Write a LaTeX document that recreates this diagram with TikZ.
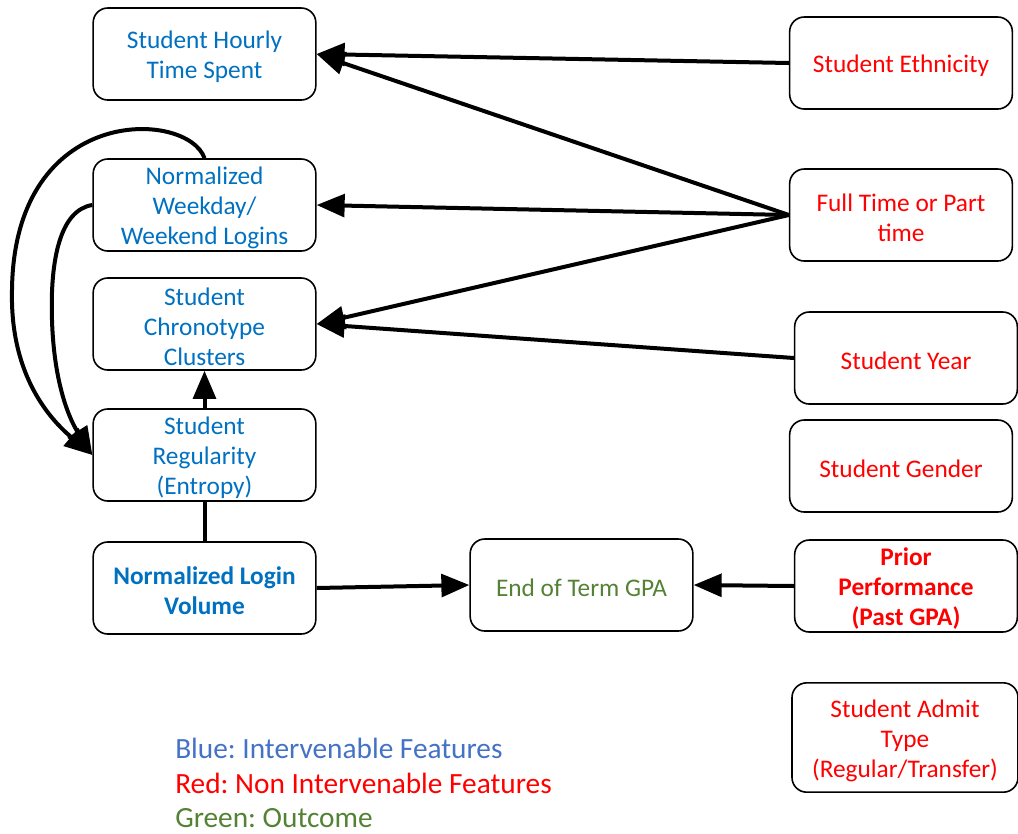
\documentclass[tikz,border=0pt]{standalone}
\usepackage{fontspec}
\setmainfont{Carlito}
\frenchspacing
\usetikzlibrary{arrows.meta}
\definecolor{fblue}{HTML}{0070C0}
\definecolor{lblue}{HTML}{4472C4}
\definecolor{fred}{HTML}{FF0000}
\definecolor{fgreen}{HTML}{548235}
\newcommand{\tallstrut}{\rule{0pt}{17.5pt}}
\tikzset{
  box/.style={draw, rounded corners=11pt, line width=1.2pt, minimum width=167pt,
    minimum height=69pt, align=center, inner sep=0pt, font=\fontsize{19}{22.5}\selectfont},
  bluebox/.style={box, text=fblue},
  redbox/.style={box, text=fred},
  arr/.style={line width=3pt, -{Triangle[length=21pt,width=17pt]}},
  plain/.style={line width=3pt},
  legend/.style={anchor=base west, inner sep=0pt, font=\fontsize{22}{26}\selectfont}
}
\begin{document}
\begin{tikzpicture}[x=0.75pt,y=-0.75pt]
\useasboundingbox (0,0) rectangle (1018,833);
% left column
\node[bluebox] (hourly) at (204.5,54) {\tallstrut Student Hourly\\Time Spent};
\node[bluebox] (weekday) at (204.5,205) {\tallstrut Normalized\\Weekday/\\Weekend Logins};
\node[bluebox] (chrono) at (204.5,324) {\tallstrut Student\\Chronotype\\Clusters};
\node[bluebox] (reg) at (204.5,455) {\tallstrut Student\\Regularity\\(Entropy)};
\node[bluebox, font=\fontsize{19}{22.5}\selectfont\bfseries] (volume) at (204.5,588) {\tallstrut Normalized Login\\Volume};
% outcome
\node[box, text=fgreen] (gpa) at (581.5,585) {\tallstrut End of Term GPA};
% right column
\node[redbox] (eth) at (901,63) {\tallstrut Student Ethnicity};
\node[redbox] (ft) at (901,215) {\tallstrut Full Time or Part\\time};
\node[redbox] (year) at (906,358) {\tallstrut Student Year};
\node[redbox] (gender) at (901,466) {\tallstrut Student Gender};
\node[redbox, font=\fontsize{19}{22.5}\selectfont\bfseries] (prior) at (906,586) {\tallstrut Prior\\Performance\\(Past GPA)};
\node[redbox, minimum width=169.5pt, minimum height=82pt] (admit) at (905,737.5) {\tallstrut Student Admit\\Type\\(Regular/Transfer)};
% legend
\node[legend, text=lblue] (lg1) at (175,758) {Blue: Intervenable Features};
\node[legend, text=fred] (lg2) at (175,793) {Red: Non Intervenable Features};
\node[legend, text=fgreen] (lg3) at (175,827) {Green: Outcome};
% connectors
\draw[arr] (eth.west) -- (hourly.east);
\draw[arr] (ft.west) -- (hourly.east);
\draw[arr] (ft.west) -- (weekday.east);
\draw[arr] (ft.west) -- (chrono.east);
\draw[arr] (year.west) -- (chrono.east);
\draw[arr] (reg.north) -- (chrono.south);
\draw[plain] (volume.north) -- (reg.south);
\draw[arr] (volume.east) -- (gpa.west);
\draw[arr] (prior.west) -- (gpa.east);
\draw[arr] (weekday.north) .. controls (188,110) and (14,102) .. (12,290)
  .. controls (10,370) and (45,415) .. (reg.west);
\draw[arr] (weekday.west) .. controls (60,210) and (50,260) .. (52,320)
  .. controls (54,385) and (70,420) .. (reg.west);
\end{tikzpicture}
\end{document}
